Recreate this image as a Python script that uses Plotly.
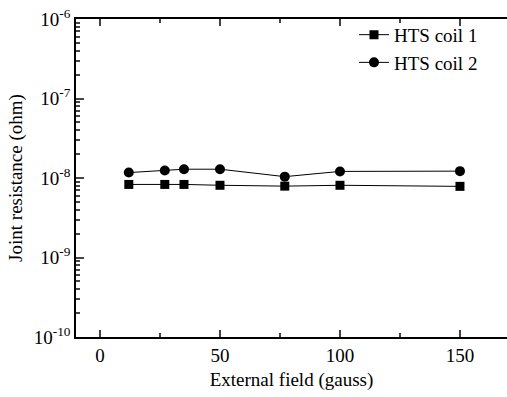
import plotly.graph_objects as go

field = [12, 27, 35, 50, 77, 100, 150]
coil1 = [8.3e-9, 8.3e-9, 8.3e-9, 8.1e-9, 7.9e-9, 8.1e-9, 7.85e-9]
coil2 = [1.17e-8, 1.24e-8, 1.29e-8, 1.29e-8, 1.04e-8, 1.21e-8, 1.22e-8]
names = ["HTS coil 1", "HTS coil 2"]
ytickvals = [1e-10, 1e-9, 1e-8, 1e-7, 1e-6]
yticktext = ["10<sup>-10</sup>", "10<sup>-9</sup>", "10<sup>-8</sup>", "10<sup>-7</sup>", "10<sup>-6</sup>"]
xtickvals = [0, 50, 100, 150]

FONT = "'Liberation Serif', 'Times New Roman', 'DejaVu Serif', serif"

fig = go.Figure()
fig.add_trace(go.Scatter(x=field, y=coil1, name=names[0], mode="lines+markers",
                         line=dict(color="black", width=1),
                         marker=dict(symbol="square", size=9, color="black")))
fig.add_trace(go.Scatter(x=field, y=coil2, name=names[1], mode="lines+markers",
                         line=dict(color="black", width=1),
                         marker=dict(symbol="circle", size=10, color="black")))

fig.update_layout(
    width=507, height=397,
    margin=dict(l=76, r=0, t=19, b=60),
    paper_bgcolor="white", plot_bgcolor="white",
    font=dict(family=FONT, size=19, color="black"),
    showlegend=True,
    legend=dict(x=0.645, y=1.01, xanchor="left", yanchor="top",
                bgcolor="rgba(0,0,0,0)", font=dict(size=19, family=FONT),
                tracegroupgap=0, itemwidth=30),
    xaxis=dict(range=[-10, 169.6], tickvals=xtickvals, ticks="inside", ticklen=7,
               tickwidth=1.5, showline=True, linecolor="black", linewidth=1.5,
               mirror="ticks", showgrid=False, zeroline=False,
               minor=dict(tickvals=[25, 75, 125], ticks="inside", ticklen=4, tickwidth=1.5,
                          showgrid=False),
               title=dict(text="External field (gauss)", standoff=8,
                          font=dict(size=19, family=FONT)),
               tickfont=dict(size=19, family=FONT)),
    yaxis=dict(type="log", range=[-10, -6], tickvals=ytickvals, ticktext=yticktext,
               ticks="inside", ticklen=8, tickwidth=1.5, showline=True,
               linecolor="black", linewidth=1.5, showgrid=False, zeroline=False,
               minor=dict(dtick="D1", ticks="inside", ticklen=4, tickwidth=1.5,
                          showgrid=False),
               title=dict(text="Joint resistance (ohm)", standoff=6,
                          font=dict(size=19, family=FONT)),
               tickfont=dict(size=19, family=FONT)),
)

fig.write_html("out.html")
